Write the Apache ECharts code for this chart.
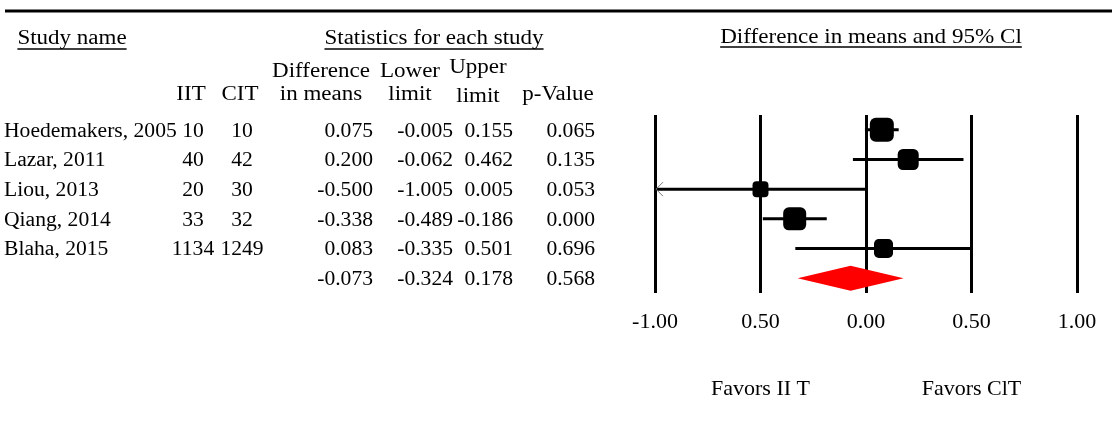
<!DOCTYPE html>
<html>
<head>
<meta charset="utf-8">
<script src="https://cdn.jsdelivr.net/npm/echarts@6/dist/echarts.min.js"></script>
<style>
html,body{margin:0;padding:0;background:#fff;}
#chart{width:1112px;height:428px;}
</style>
</head>
<body>
<div id="chart"></div>
<script>
// ---------- data ----------
const studies    = ["Hoedemakers, 2005", "Lazar, 2011", "Liou, 2013", "Qiang, 2014", "Blaha, 2015"];
const iitN       = [10, 40, 20, 33, 1134];
const citN       = [10, 42, 30, 32, 1249];
const diffMeans  = [0.075, 0.200, -0.500, -0.338, 0.083];
const lowerLimit = [-0.005, -0.062, -1.005, -0.489, -0.335];
const upperLimit = [0.155, 0.462, 0.005, -0.186, 0.501];
const pValues    = [0.065, 0.135, 0.053, 0.000, 0.696];
// summary (pooled) row: difference, lower, upper, p
const summaryRow = [-0.073, -0.324, 0.178, 0.568];
// relative study weights (%)
const weightPct  = [26.6, 20.4, 11.8, 24.5, 16.7];
const tickLabels = ["-1.00", "0.50", "0.00", "0.50", "1.00"];
const tickValues = [-1, -0.5, 0, 0.5, 1];

// ---------- styling ----------
const SERIF = '"Liberation Serif", "Times New Roman", serif';
const X_MIN = -1, X_MAX = 1;
const nRows = studies.length + 1;

const chart = echarts.init(document.getElementById('chart'), null, {renderer: 'canvas'});

const option = {
  animation: false,
  backgroundColor: '#fff',
  grid: {left: 655, right: 35, top: 115, bottom: 135, containLabel: false},
  xAxis: {
    type: 'value', min: X_MIN, max: X_MAX, interval: 0.5,
    axisLine: {show: false}, axisTick: {show: false},
    splitLine: {show: true, lineStyle: {color: '#000', width: 3}},
    axisLabel: {
      color: '#000', fontSize: 22, fontFamily: SERIF, margin: 18,
      formatter: v => {
        const k = tickValues.findIndex(t => Math.abs(t - v) < 1e-9);
        return k >= 0 ? tickLabels[k] : '';
      }
    }
  },
  yAxis: {type: 'value', min: 0, max: nRows, inverse: true, show: false},
  series: [
    {
      type: 'custom', name: 'ci', z: 3,
      encode: {x: [0, 1], y: 2},
      data: studies.map((s, i) => [lowerLimit[i], upperLimit[i], i + 0.5]),
      renderItem: (params, api) => {
        const lo = api.value(0), hi = api.value(1), r = api.value(2);
        const p1 = api.coord([Math.max(lo, X_MIN), r]);
        const p2 = api.coord([Math.min(hi, X_MAX), r]);
        const children = [{
          type: 'line',
          shape: {x1: p1[0], y1: p1[1], x2: p2[0], y2: p2[1]},
          style: {stroke: '#000', lineWidth: 3}
        }];
        if (lo < X_MIN) {
          children.push({
            type: 'polyline', z2: 10,
            shape: {points: [[p1[0] + 8, p1[1] - 7], [p1[0] + 1, p1[1]], [p1[0] + 8, p1[1] + 7]]},
            style: {stroke: '#777', lineWidth: 1, fill: null}
          });
        }
        return {type: 'group', children};
      }
    },
    {
      type: 'scatter', name: 'studies', z: 4,
      symbol: 'roundRect',
      data: studies.map((s, i) => ({value: [diffMeans[i], i + 0.5], symbolSize: 4.65 * Math.sqrt(weightPct[i])})),
      itemStyle: {color: '#000', opacity: 1}
    },
    {
      type: 'custom', name: 'pooled', z: 5,
      encode: {x: [0, 1, 2], y: 3},
      data: [[summaryRow[1], summaryRow[0], summaryRow[2], studies.length + 0.5]],
      renderItem: (params, api) => {
        const r = api.value(3);
        const a = api.coord([api.value(0), r]);
        const m = api.coord([api.value(1), r]);
        const b = api.coord([api.value(2), r]);
        const h = 12.5;
        return {
          type: 'polygon',
          shape: {points: [[a[0], a[1]], [m[0], m[1] - h], [b[0], b[1]], [m[0], m[1] + h]]},
          style: {fill: '#ff0000', stroke: null}
        };
      }
    }
  ]
};
chart.setOption(option);

// ---------- table text & headers ----------
const measure = (() => {
  const c = document.createElement('canvas').getContext('2d');
  return (txt, size) => { c.font = size + 'px ' + SERIF; return c.measureText(txt).width; };
})();

const graphics = [];
function txt(text, x, y, size, align, sx, extra) {
  graphics.push(Object.assign({
    type: 'text', x: x, y: y, scaleX: sx || 1, z: 10,
    style: {text: text, fill: '#000', fontSize: size, fontFamily: SERIF,
            align: align, textAlign: align, verticalAlign: 'middle', textVerticalAlign: 'middle'}
  }, extra || {}));
}
function underlined(text, cx, y, size, sx) {
  txt(text, cx, y, size, 'center', sx);
  const w = measure(text, size) * sx;
  graphics.push({type: 'line', z: 10, shape: {x1: cx - w / 2, y1: y + 10, x2: cx + w / 2, y2: y + 10},
                 style: {stroke: '#000', lineWidth: 1.3}});
}

// top rule
graphics.push({type: 'line', z: 10, shape: {x1: 5, y1: 11, x2: 1112, y2: 11}, style: {stroke: '#000', lineWidth: 3}});

const HS = 20, HSX = 1.15;         // header font size / stretch
underlined('Study name', 72, 39, HS, HSX);
underlined('Statistics for each study', 434, 39, HS, HSX);
underlined('Difference in means and 95% Cl', 871, 37, 21, 1.1);

// column headers
const colC = {iit: 191, cit: 240, diff: 321, lower: 410, upper: 478, p: 558};
txt('IIT', colC.iit, 95, HS, 'center', HSX);
txt('CIT', colC.cit, 95, HS, 'center', HSX);
txt('Difference', colC.diff, 72, HS, 'center', HSX);
txt('in means', colC.diff, 95, HS, 'center', HSX);
txt('Lower', colC.lower, 72, HS, 'center', HSX);
txt('limit', colC.lower, 95, HS, 'center', HSX);
txt('Upper', colC.upper, 68, HS, 'center', HSX);
txt('limit', colC.upper, 97, HS, 'center', HSX);
txt('p-Value', colC.p, 95, HS, 'center', HSX);

// rows
const TS = 20, TSX = 1.08;
const rowY = r => chart.convertToPixel({yAxisIndex: 0}, r + 0.5) + 1.5;
const colR = {diff: 373, lower: 453, upper: 513, p: 595};
studies.forEach((s, i) => {
  const y = rowY(i);
  txt(s, 4, y, TS, 'left', TSX);
  txt(String(iitN[i]), colC.iit + 2, y, TS, 'center', TSX);
  txt(String(citN[i]), colC.cit + 2, y, TS, 'center', TSX);
  txt(diffMeans[i].toFixed(3), colR.diff, y, TS, 'right', TSX);
  txt(lowerLimit[i].toFixed(3), colR.lower, y, TS, 'right', TSX);
  txt(upperLimit[i].toFixed(3), colR.upper, y, TS, 'right', TSX);
  txt(pValues[i].toFixed(3), colR.p, y, TS, 'right', TSX);
});
{
  const y = rowY(studies.length);
  txt(summaryRow[0].toFixed(3), colR.diff, y, TS, 'right', TSX);
  txt(summaryRow[1].toFixed(3), colR.lower, y, TS, 'right', TSX);
  txt(summaryRow[2].toFixed(3), colR.upper, y, TS, 'right', TSX);
  txt(summaryRow[3].toFixed(3), colR.p, y, TS, 'right', TSX);
}

// favours labels under the axis
const favY = chart.convertToPixel({yAxisIndex: 0}, nRows) + 96;
txt('Favors II T', chart.convertToPixel({xAxisIndex: 0}, -0.5), favY, 22, 'center', 1);
txt('Favors ClT', chart.convertToPixel({xAxisIndex: 0}, 0.5), favY, 22, 'center', 1);

chart.setOption({graphic: {elements: graphics}});
</script>
</body>
</html>
